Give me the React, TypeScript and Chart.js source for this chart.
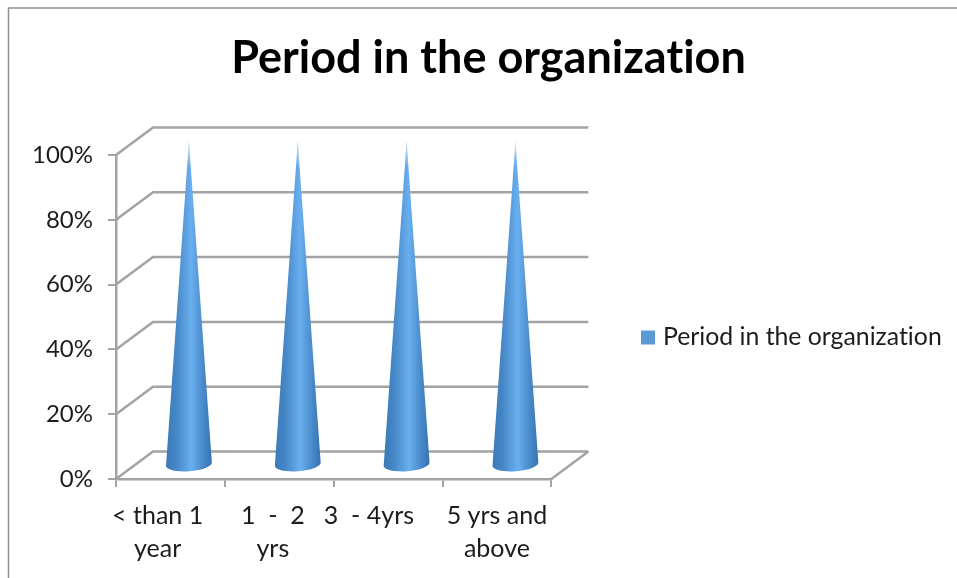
import React, { useEffect, useRef } from "react";
import { Chart, registerables, BarController, BarElement } from "chart.js";

const chartTitle = "Period in the organization";
const seriesName = "Period in the organization";
const categories: string[][] = [
  ["< than 1    ", "year    "],
  ["1  -  2  ", "yrs  "],
  ["3  - 4yrs      "],
  ["5 yrs and", "above"],
];
const periodValues = [100, 100, 100, 100];
const yTicks = { min: 0, max: 100, step: 20 };

const FONT = "Lato, Carlito, Calibri, sans-serif";
const GREY = "#a3a3a3";
const TEXT = "#1c1c1c";
const DEPTH_X = 37;
const DEPTH_Y = 27.5;

class ConeElement extends BarElement {
  static id = "cone";
  static defaults = { ...(BarElement as any).defaults };
  draw(ctx: CanvasRenderingContext2D) {
    const { x, y, base } = (this as any).getProps(["x", "y", "base"], true);
    const cx = x + DEPTH_X / 2;
    const topY = y - DEPTH_Y / 2;
    const baseY = base - DEPTH_Y / 2;
    const rx = 23;
    const ry = 7;
    const tilt = -0.075;
    ctx.save();
    const path = new Path2D();
    path.moveTo(cx, topY);
    path.lineTo(cx + rx * Math.cos(tilt), baseY + rx * Math.sin(tilt));
    path.ellipse(cx, baseY, rx, ry, tilt, 0, Math.PI);
    path.closePath();
    const g = ctx.createLinearGradient(cx - rx, 0, cx + rx, 0);
    g.addColorStop(0, "#3a7ab8");
    g.addColorStop(0.22, "#4586c6");
    g.addColorStop(0.55, "#69afef");
    g.addColorStop(0.8, "#4a8bcb");
    g.addColorStop(1, "#3674b0");
    ctx.fillStyle = g;
    ctx.fill(path);
    ctx.clip(path);
    const fade = ctx.createLinearGradient(0, topY, 0, topY + 26);
    fade.addColorStop(0, "rgba(255,255,255,0.75)");
    fade.addColorStop(1, "rgba(255,255,255,0)");
    ctx.fillStyle = fade;
    ctx.fillRect(cx - rx, topY, rx * 2, 26);
    ctx.restore();
  }
}

class ConeController extends BarController {
  static id = "cone";
  static defaults = { ...(BarController as any).defaults, dataElementType: "cone" };
  static overrides = (BarController as any).overrides;
}

Chart.register(...registerables, ConeElement, ConeController);

const framePlugin = {
  id: "frame",
  afterLayout(chart: any) {
    const lg = chart.legend;
    const w = lg.width;
    const h = lg.height;
    lg.left = 546.5;
    lg.right = lg.left + w;
    lg.top = 48.5;
    lg.bottom = lg.top + h;
  },
  beforeDraw(chart: any) {
    const { ctx, width, height } = chart;
    ctx.textRendering = "optimizeSpeed";
    ctx.save();
    ctx.strokeStyle = "#8f8f8f";
    ctx.lineWidth = 1.5;
    ctx.beginPath();
    ctx.moveTo(8.5, height);
    ctx.lineTo(8.5, 8);
    ctx.lineTo(width, 8);
    ctx.stroke();
    ctx.restore();
  },
  beforeDatasetsDraw(chart: any) {
    const { ctx, scales, chartArea } = chart;
    const y = scales.y;
    ctx.save();
    ctx.strokeStyle = GREY;
    ctx.lineWidth = 2.5;
    ctx.beginPath();
    y.ticks.forEach((t: any) => {
      const py = y.getPixelForValue(t.value);
      ctx.moveTo(chartArea.left, py);
      ctx.lineTo(chartArea.left + DEPTH_X, py - DEPTH_Y);
      ctx.lineTo(chartArea.right + DEPTH_X, py - DEPTH_Y);
    });
    const by = y.getPixelForValue(yTicks.min);
    ctx.moveTo(chartArea.right + DEPTH_X, by - DEPTH_Y);
    ctx.lineTo(chartArea.right, by);
    ctx.stroke();
    ctx.restore();
  },
};

export default function App() {
  const ref = useRef<HTMLCanvasElement>(null);
  useEffect(() => {
    const chart = new Chart(ref.current!, {
      type: "cone" as any,
      plugins: [framePlugin],
      data: {
        labels: categories as any,
        datasets: [
          {
            label: seriesName,
            data: periodValues,
            backgroundColor: "#5b9bd5",
            borderWidth: 0,
            clip: false as any,
          },
        ],
      },
      options: {
        responsive: false,
        animation: false,
        layout: { padding: { left: 20, top: 0, right: 0, bottom: 0 } },
        plugins: {
          title: {
            display: true,
            text: chartTitle,
            color: "#000",
            font: { family: FONT, size: 45, weight: "bold", lineHeight: 1.2 },
            padding: { top: 31, bottom: 70 },
          },
          legend: {
            display: true,
            position: "right",
            maxWidth: 406,
            labels: {
              usePointStyle: true,
              pointStyle: "rect",
              boxWidth: 5,
              boxHeight: 14,
              padding: 99,
              color: TEXT,
              font: { family: FONT, size: 24.8 },
            },
          },
          tooltip: { enabled: false },
        },
        scales: {
          x: {
            type: "category",
            grid: { drawOnChartArea: false, drawTicks: true, tickLength: 8, color: GREY, lineWidth: 2 },
            border: { color: GREY, width: 2.5 },
            ticks: {
              color: TEXT,
              padding: 12,
              maxRotation: 0,
              minRotation: 0,
              autoSkip: false,
              font: { family: FONT, size: 25, lineHeight: 1.32 },
            },
            afterFit: (s: any) => {
              s.height = 99;
            },
          },
          y: {
            min: yTicks.min,
            max: yTicks.max,
            grid: { drawOnChartArea: false, drawTicks: true, tickLength: 8, color: GREY, lineWidth: 2 },
            border: { color: GREY, width: 2.5 },
            ticks: {
              stepSize: yTicks.step,
              color: TEXT,
              padding: 15,
              font: { family: FONT, size: 24 },
              callback: (v: any) => `${v}%`,
            },
            afterFit: (s: any) => {
              s.width = 96;
            },
          },
        },
      } as any,
    });
    return () => chart.destroy();
  }, []);
  return (
    <canvas
      ref={ref}
      width={957}
      height={578}
      style={{ position: "fixed", left: 0, top: 0, display: "block", background: "#fff" }}
    />
  );
}
